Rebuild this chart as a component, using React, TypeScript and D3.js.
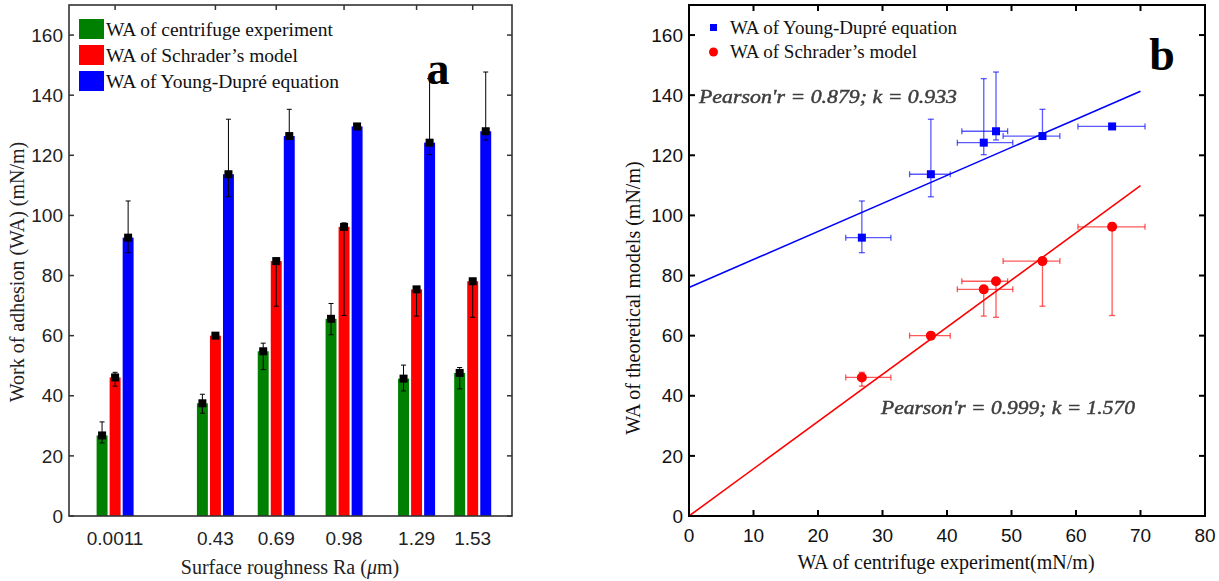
import React from 'react';
import * as d3 from 'd3';

// roughness categories (Ra, um)
const raLabels = ['0.0011', '0.43', '0.69', '0.98', '1.29', '1.53'];
const raValues = [0.0011, 0.43, 0.69, 0.98, 1.29, 1.53];

// WA of centrifuge experiment
const centrifuge = [26.8, 37.5, 54.8, 65.6, 45.7, 47.6];
const centrifugeLow = [24.3, 34.2, 48.7, 60.3, 41.6, 42.3];
const centrifugeHigh = [31.3, 40.5, 57.5, 70.7, 50.2, 49.4];

// WA of Schrader's model
const schrader = [46.1, 60.0, 84.8, 96.2, 75.4, 78.1];
const schraderLow = [43.2, 59.2, 69.8, 66.7, 66.5, 66.1];
const schraderHigh = [47.8, 60.8, 85.8, 97.5, 76.2, 78.8];

// WA of Young-Dupre equation
const young = [92.6, 113.7, 126.4, 129.6, 124.2, 128.0];
const youngLow = [87.6, 106.2, 125.5, 129.0, 120.2, 125.1];
const youngHigh = [104.8, 132.0, 135.3, 130.2, 145.5, 147.7];

// linear fits shown in panel b
const youngFit = { slope: 0.933, intercept: 76 };
const schraderFit = { slope: 1.57, intercept: 0 };
const fitRange = [0, 70];

const yTicks = [0, 20, 40, 60, 80, 100, 120, 140, 160];
const xTicksB = [0, 10, 20, 30, 40, 50, 60, 70, 80];

const seriesNames = ['centrifuge', 'schrader', 'young'];
const seriesLabels = ['WA of centrifuge experiment', 'WA of Schrader\u2019s model', 'WA of Young-Dupr\u00e9 equation'];
const seriesColors = ['#008000', '#ff0000', '#0000ff'];

const serif = "'Liberation Serif', 'Times New Roman', serif";
const sans = "'Liberation Sans', Arial, sans-serif";

const PanelA = () => {
  const left = 69, right = 512, top = 5, bottom = 516;
  const x = d3.scaleLinear().domain([-0.196, 1.698]).range([left, right]);
  const y = d3.scaleLinear().domain([0, 170]).range([bottom, top]);
  const inner = d3.scaleBand().domain(seriesNames).range([-18.5, 18.5]).paddingInner(0.16);
  const bw = inner.bandwidth();

  const vals = [centrifuge, schrader, young];
  const lows = [centrifugeLow, schraderLow, youngLow];
  const highs = [centrifugeHigh, schraderHigh, youngHigh];
  const frame = '#333';

  return (
    <g>
      {/* bars */}
      {seriesNames.map((s, si) =>
        raValues.map((ra, i) => {
          const cx = x(ra) + (inner(s) as number) + bw / 2;
          return (
            <g key={s + i}>
              <rect x={cx - bw / 2} y={y(vals[si][i])} width={bw} height={y(0) - y(vals[si][i])} fill={seriesColors[si]} />
              <line x1={cx} x2={cx} y1={y(lows[si][i])} y2={y(highs[si][i])} stroke="#000" strokeWidth={1} />
              <line x1={cx - 2.5} x2={cx + 2.5} y1={y(lows[si][i])} y2={y(lows[si][i])} stroke="#000" strokeWidth={1} />
              <line x1={cx - 2.5} x2={cx + 2.5} y1={y(highs[si][i])} y2={y(highs[si][i])} stroke="#000" strokeWidth={1} />
              <rect x={cx - 4} y={y(vals[si][i]) - 4} width={8} height={8} fill="#000" />
            </g>
          );
        })
      )}
      {/* frame */}
      <rect x={left} y={top} width={right - left} height={bottom - top} fill="none" stroke={frame} strokeWidth={1.6} />
      {yTicks.map(t => (
        <g key={t}>
          <line x1={left} x2={left + 5} y1={y(t)} y2={y(t)} stroke={frame} strokeWidth={1.5} />
          <line x1={right} x2={right - 5} y1={y(t)} y2={y(t)} stroke={frame} strokeWidth={1.5} />
          <text x={left - 6} y={y(t)} dy="0.35em" textAnchor="end" fontFamily={sans} fontSize={19} fill="#222">{t}</text>
        </g>
      ))}
      {raValues.map((ra, i) => (
        <g key={ra}>
          <line x1={x(ra)} x2={x(ra)} y1={top} y2={top + 5} stroke={frame} strokeWidth={1.5} />
          <text x={x(ra)} y={545} textAnchor="middle" fontFamily={sans} fontSize={19} fill="#222">{raLabels[i]}</text>
        </g>
      ))}
      <text x={290} y={574} textAnchor="middle" fontFamily={serif} fontSize={20} fill="#222">
        Surface roughness Ra (<tspan fontStyle="italic">{'\u03bc'}</tspan>m)
      </text>
      <text transform={`translate(24,${272}) rotate(-90)`} textAnchor="middle" fontFamily={serif} fontSize={20} fill="#222">
        Work of adhesion (WA) (mN/m)
      </text>
      {/* legend */}
      {seriesLabels.map((l, i) => (
        <g key={l}>
          <rect x={79} y={19 + i * 26} width={25} height={20} fill={seriesColors[i]} />
          <text x={106} y={36 + i * 26} fontFamily={serif} fontSize={19.5} fill="#111">{l}</text>
        </g>
      ))}
      <text x={438} y={84} textAnchor="middle" fontFamily={serif} fontWeight="bold" fontSize={46} fill="#000">a</text>
    </g>
  );
};

const PanelB = () => {
  const left = 689, right = 1205, top = 5, bottom = 516;
  const x = d3.scaleLinear().domain([0, 80]).range([left, right]);
  const y = d3.scaleLinear().domain([0, 170]).range([bottom, top]);
  const fitLine = (f: { slope: number; intercept: number }) =>
    d3.line<number>().x(d => x(d)).y(d => y(f.intercept + f.slope * d))(fitRange) as string;

  const groups = [
    { vals: young, low: youngLow, high: youngHigh, color: '#0000ff', shape: 'square' },
    { vals: schrader, low: schraderLow, high: schraderHigh, color: '#ff0000', shape: 'circle' },
  ];

  return (
    <g>
      <defs>
        <filter id="soft" x="-5%" y="-30%" width="110%" height="160%">
          <feGaussianBlur stdDeviation="0.5" />
        </filter>
      </defs>
      <path d={fitLine(youngFit)} stroke="#0000ff" strokeWidth={1.6} fill="none" />
      <path d={fitLine(schraderFit)} stroke="#ff0000" strokeWidth={1.6} fill="none" />
      {groups.map((g, gi) =>
        centrifuge.map((cv, i) => {
          const px = x(cv), py = y(g.vals[i]);
          const ec = g.color;
          return (
            <g key={gi + '-' + i}>
              <g stroke={ec} strokeOpacity={0.65} strokeWidth={1.3}>
                <line x1={x(centrifugeLow[i])} x2={x(centrifugeHigh[i])} y1={py} y2={py} />
                <line x1={x(centrifugeLow[i])} x2={x(centrifugeLow[i])} y1={py - 3} y2={py + 3} />
                <line x1={x(centrifugeHigh[i])} x2={x(centrifugeHigh[i])} y1={py - 3} y2={py + 3} />
                <line x1={px} x2={px} y1={y(g.low[i])} y2={y(g.high[i])} />
                <line x1={px - 3} x2={px + 3} y1={y(g.low[i])} y2={y(g.low[i])} />
                <line x1={px - 3} x2={px + 3} y1={y(g.high[i])} y2={y(g.high[i])} />
              </g>
              {g.shape === 'square'
                ? <rect x={px - 4} y={py - 4} width={8} height={8} fill={g.color} />
                : <circle cx={px} cy={py} r={5} fill={g.color} />}
            </g>
          );
        })
      )}
      <rect x={left} y={top} width={right - left} height={bottom - top} fill="none" stroke="#000" strokeWidth={2} />
      {yTicks.map(t => (
        <g key={t}>
          <line x1={left} x2={left + 6} y1={y(t)} y2={y(t)} stroke="#000" strokeWidth={2} />
          <line x1={right} x2={right - 6} y1={y(t)} y2={y(t)} stroke="#000" strokeWidth={2} />
          <text x={left - 6} y={y(t)} dy="0.35em" textAnchor="end" fontFamily={sans} fontSize={19} fill="#111">{t}</text>
        </g>
      ))}
      {xTicksB.map(t => (
        <g key={t}>
          <line x1={x(t)} x2={x(t)} y1={bottom} y2={bottom - 6} stroke="#000" strokeWidth={2} />
          <line x1={x(t)} x2={x(t)} y1={top} y2={top + 6} stroke="#000" strokeWidth={2} />
          <text x={x(t)} y={542} textAnchor="middle" fontFamily={sans} fontSize={19} fill="#111">{t}</text>
        </g>
      ))}
      <text x={946} y={569} textAnchor="middle" fontFamily={serif} fontSize={20} fill="#111">
        WA of centrifuge experiment(mN/m)
      </text>
      <text transform={`translate(640,${298}) rotate(-90)`} textAnchor="middle" fontFamily={serif} fontSize={20} fill="#111">
        WA of theoretical models (mN/m)
      </text>
      {/* legend */}
      <rect x={710} y={24} width={7} height={7} fill="#0000ff" />
      <text x={730} y={34} fontFamily={serif} fontSize={19} fill="#111">{seriesLabels[2]}</text>
      <circle cx={713.5} cy={52} r={4.5} fill="#ff0000" />
      <text x={730} y={58} fontFamily={serif} fontSize={19} fill="#111">{seriesLabels[1]}</text>
      <text x={1162} y={70} textAnchor="middle" fontFamily={serif} fontWeight="bold" fontSize={46} fill="#000">b</text>
      {/* fit annotations */}
      <g fontFamily={serif} fontStyle="italic" fontSize={19} fill="#3e3e3e" stroke="#3e3e3e" strokeWidth={0.45} filter="url(#soft)">
        <text x={699} y={103} textLength={258} lengthAdjust="spacingAndGlyphs">Pearson'r = 0.879; k = 0.933</text>
        <text x={881} y={414} textLength={254} lengthAdjust="spacingAndGlyphs">Pearson'r = 0.999; k = 1.570</text>
      </g>
    </g>
  );
};

export default function App() {
  return (
    <svg width={1219} height={581} style={{ position: 'absolute', left: 0, top: 0, background: '#fff' }}>
      <rect width={1219} height={581} fill="#fff" />
      <PanelA />
      <PanelB />
    </svg>
  );
}
